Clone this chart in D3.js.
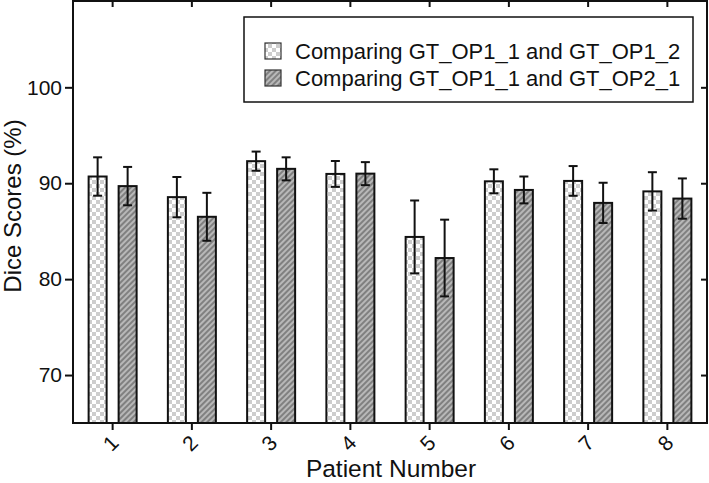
<!DOCTYPE html>
<html>
<head>
<meta charset="utf-8">
<script src="https://cdn.jsdelivr.net/npm/d3@7"></script>
<style>
  html, body { margin: 0; padding: 0; background: #fff; }
  svg { display: block; font-family: "Liberation Sans", Arial, sans-serif; }
</style>
</head>
<body>
<svg id="chart" width="709" height="483"></svg>
<script>
// ---- data ----
const patients = ["1", "2", "3", "4", "5", "6", "7", "8"];
const seriesNames = ["Comparing GT_OP1_1 and GT_OP1_2", "Comparing GT_OP1_1 and GT_OP2_1"];
const op1Means = [90.7, 88.55, 92.3, 90.97, 84.4, 90.2, 90.24, 89.15];
const op1Errors = [2.0, 2.1, 1.0, 1.35, 3.8, 1.25, 1.55, 2.0];
const op2Means = [89.7, 86.5, 91.5, 91.0, 82.2, 89.3, 87.95, 88.4];
const op2Errors = [2.0, 2.5, 1.2, 1.2, 4.0, 1.4, 2.1, 2.1];
const yTicks = [70, 80, 90, 100];
const xTitle = "Patient Number";
const yTitle = "Dice Scores (%)";

// ---- layout ----
const pLeft = 73, pRight = 707, pTop = 1, pBottom = 423;
const svg = d3.select("#chart");

const x = d3.scaleBand().domain(patients).range([pLeft, pRight]).padding(0);
const offset = d3.scalePoint().domain([0, 1]).range([-15, 15]);
const y = d3.scaleLinear().domain([65, 109]).range([pBottom, pTop]);
const barW = 18;

// patterns
const defs = svg.append("defs");
const checker = defs.append("pattern").attr("id", "checker")
  .attr("patternUnits", "userSpaceOnUse").attr("width", 8).attr("height", 8);
checker.append("rect").attr("width", 8).attr("height", 8).attr("fill", "#ffffff");
checker.append("rect").attr("width", 4).attr("height", 4).attr("fill", "#cdcdcd");
checker.append("rect").attr("x", 4).attr("y", 4).attr("width", 4).attr("height", 4).attr("fill", "#cdcdcd");

const hatch = defs.append("pattern").attr("id", "hatch")
  .attr("patternUnits", "userSpaceOnUse").attr("width", 4).attr("height", 4)
  .attr("patternTransform", "rotate(45)");
hatch.append("rect").attr("width", 4).attr("height", 4).attr("fill", "#b8b8b8");
hatch.append("line").attr("x1", 1).attr("y1", 0).attr("x2", 1).attr("y2", 4)
  .attr("stroke", "#5a5a5a").attr("stroke-width", 1.2);

const fills = ["url(#checker)", "url(#hatch)"];
const series = [
  { means: op1Means, errs: op1Errors },
  { means: op2Means, errs: op2Errors }
];

// bars
series.forEach((s, si) => {
  const g = svg.append("g");
  const rows = patients.map((p, i) => ({ p, m: s.means[i], e: s.errs[i] }));
  g.selectAll("rect").data(rows).join("rect")
    .attr("x", d => x(d.p) + x.bandwidth() / 2 + offset(si) - barW / 2)
    .attr("width", barW)
    .attr("y", d => y(d.m))
    .attr("height", d => y(65) - y(d.m))
    .attr("fill", fills[si])
    .attr("stroke", "#111").attr("stroke-width", 2);
  const eg = g.selectAll("g.err").data(rows).join("g").attr("class", "err")
    .attr("transform", d => `translate(${x(d.p) + x.bandwidth() / 2 + offset(si)},0)`);
  eg.append("line").attr("x1", 0).attr("x2", 0)
    .attr("y1", d => y(d.m + d.e)).attr("y2", d => y(d.m - d.e))
    .attr("stroke", "#111").attr("stroke-width", 2);
  eg.append("line").attr("x1", -4.5).attr("x2", 4.5)
    .attr("y1", d => y(d.m + d.e)).attr("y2", d => y(d.m + d.e))
    .attr("stroke", "#111").attr("stroke-width", 2);
  eg.append("line").attr("x1", -4.5).attr("x2", 4.5)
    .attr("y1", d => y(d.m - d.e)).attr("y2", d => y(d.m - d.e))
    .attr("stroke", "#111").attr("stroke-width", 2);
});

// axes
const yAxis = svg.append("g").attr("transform", `translate(${pLeft},0)`)
  .call(d3.axisLeft(y).tickValues(yTicks).tickSize(8).tickPadding(3).tickSizeOuter(0));
yAxis.selectAll("text").attr("font-size", 21).attr("fill", "#111")
  .attr("font-family", "Liberation Sans, Arial, sans-serif");

const yAxisR = svg.append("g").attr("transform", `translate(${pRight},0)`)
  .call(d3.axisRight(y).tickValues(yTicks).tickSize(-6).tickFormat("").tickSizeOuter(0));

const xAxis = svg.append("g").attr("transform", `translate(0,${pBottom})`)
  .call(d3.axisBottom(x).tickSize(7).tickSizeOuter(0).tickFormat(""));
const xAxisT = svg.append("g").attr("transform", `translate(0,${pTop})`)
  .call(d3.axisTop(x).tickSize(-6).tickSizeOuter(0).tickFormat(""));

[yAxis, yAxisR, xAxis, xAxisT].forEach(a => {
  a.select(".domain").remove();
  a.selectAll("line").attr("stroke", "#111").attr("stroke-width", 2);
});

// rotated x tick labels
svg.append("g").selectAll("text").data(patients).join("text")
  .attr("transform", d => `translate(${x(d) + x.bandwidth() / 2 - 2},${pBottom + 20}) rotate(-45)`)
  .attr("text-anchor", "middle").attr("dominant-baseline", "central")
  .attr("font-size", 21).attr("fill", "#111")
  .text(d => d);

// frame
svg.append("rect").attr("x", pLeft).attr("y", pTop)
  .attr("width", pRight - pLeft).attr("height", pBottom - pTop)
  .attr("fill", "none").attr("stroke", "#111").attr("stroke-width", 2);

// titles
svg.append("text").attr("x", (pLeft + pRight) / 2 + 1).attr("y", 477)
  .attr("text-anchor", "middle").attr("font-size", 24.5).attr("fill", "#111").text(xTitle);
svg.append("text").attr("transform", "translate(21,206) rotate(-90)")
  .attr("text-anchor", "middle").attr("font-size", 24).attr("fill", "#111").text(yTitle);

// legend
const lg = svg.append("g");
lg.append("rect").attr("x", 244).attr("y", 17).attr("width", 449).attr("height", 85)
  .attr("fill", "#fff").attr("stroke", "#111").attr("stroke-width", 1.5);
seriesNames.forEach((name, i) => {
  const yy = 51 + i * 27;
  lg.append("rect").attr("x", 265).attr("y", yy - 8).attr("width", 16).attr("height", 16)
    .attr("fill", fills[i]).attr("stroke", "#333").attr("stroke-width", 1.2);
  lg.append("text").attr("x", 295).attr("y", yy + 8)
    .attr("font-size", 22).attr("fill", "#111").text(name);
});
</script>
</body>
</html>
